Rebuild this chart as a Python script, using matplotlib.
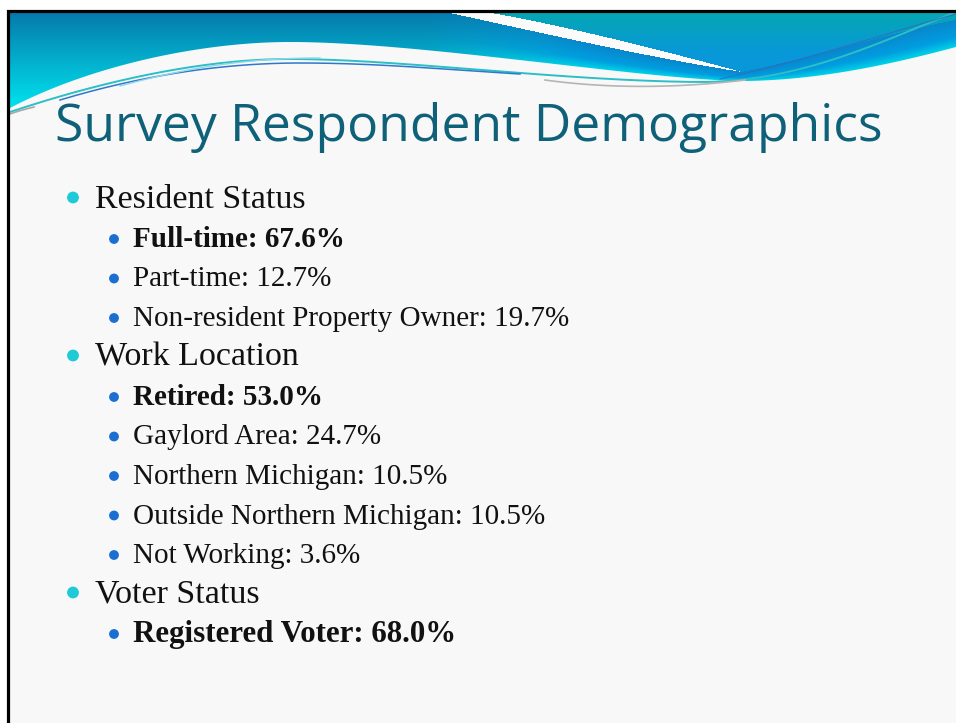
import numpy as np
import matplotlib
matplotlib.use("Agg")
import matplotlib.pyplot as plt
from matplotlib.patches import Polygon, Circle

# ---------------- data ----------------
title = "Survey Respondent Demographics"
section_titles = ["Resident Status", "Work Location", "Voter Status"]
resident_labels = ["Full-time", "Part-time", "Non-resident Property Owner"]
resident_values = [67.6, 12.7, 19.7]
work_labels = ["Retired", "Gaylord Area", "Northern Michigan",
               "Outside Northern Michigan", "Not Working"]
work_values = [53.0, 24.7, 10.5, 10.5, 3.6]
voter_labels = ["Registered Voter"]
voter_values = [68.0]

W, H = 956, 723
fig = plt.figure(figsize=(W / 100, H / 100), dpi=100)
ax = fig.add_axes([0, 0, 1, 1])
ax.set_xlim(0, W)
ax.set_ylim(H, 0)
ax.axis("off")
fig.patch.set_facecolor("white")


def bez(p0, p1, p2, p3, n=80):
    t = np.linspace(0, 1, n)[:, None]
    p0, p1, p2, p3 = map(np.asarray, (p0, p1, p2, p3))
    return (1 - t) ** 3 * p0 + 3 * (1 - t) ** 2 * t * p1 + 3 * (1 - t) * t ** 2 * p2 + t ** 3 * p3


def hexc(h):
    h = h.lstrip("#")
    return np.array([int(h[i:i + 2], 16) / 255 for i in (0, 2, 4)])


# slide background inside border
ax.add_patch(plt.Rectangle((9, 10), W, H, facecolor="#f8f8f8", edgecolor="none", zorder=0))

# ---- header band ----
b1 = bez((10, 108), (90, 66), (200, 42), (290, 42))
b2 = bez((290, 42), (420, 42), (640, 79), (740, 81))
b3 = bez((740, 81), (820, 81), (900, 62), (956, 47))
bcurve = np.vstack([b1, b2[1:], b3[1:]])
band_poly = np.vstack([[[9, 10]], bcurve, [[956, 10]]])

up = bez((474, 10), (560, 24), (660, 50), (742, 72))
lo = bez((436, 10), (520, 28), (640, 56), (742, 72))
dd = bez((742, 72), (820, 56), (900, 30), (956, 20))

X, Y = np.meshgrid(np.arange(W) + 0.5, np.arange(120) + 0.5)
B = np.interp(X, bcurve[:, 0], bcurve[:, 1])
U = np.interp(X, up[:, 0], up[:, 1], left=-1)
L = np.interp(X, lo[:, 0], lo[:, 1], left=-1)
D = np.interp(X, dd[:, 0], dd[:, 1])
T = np.where(X <= 742, U, D)
S = np.where(X <= 742, L, D)

lt, lb = hexc("#0677a9"), hexc("#00e5f0")
s = np.clip((Y - 10) / 100, 0, 1)[..., None]
left = lt * (1 - s) + lb * s
t = np.clip((Y - S) / np.maximum(B - S, 1), 0, 1)[..., None]
c0, c1, c2 = hexc("#0a86cc"), hexc("#009ee0"), hexc("#00d3e6")
right = np.where(t < 0.65, c0 + (c1 - c0) * (t / 0.65), c1 + (c2 - c1) * ((t - 0.65) / 0.35))
w = np.clip((X - 430) / 160, 0, 1)[..., None]
below = left * (1 - w) + right * w
ta, tb = hexc("#05a6b4"), hexc("#0898da")
u = np.clip((Y - 14) / 40, 0, 1)[..., None]
teal = ta * (1 - u) + tb * u
img = np.where((Y < T)[..., None], teal, below)
stripe = (Y >= T) & (Y < S)
img[stripe] = hexc("#fbfbfb")

im = ax.imshow(img, extent=(0, W, 120, 0), origin="upper", zorder=1, interpolation="bilinear")
clip = Polygon(band_poly, closed=True, transform=ax.transData, facecolor="none", edgecolor="none")
ax.add_patch(clip)
im.set_clip_path(clip)
ax.set_xlim(0, W)
ax.set_ylim(H, 0)

# decorative lines
l1 = np.vstack([bez((10, 112), (100, 82), (200, 59), (290, 59)),
                bez((290, 59), (400, 59), (560, 81), (700, 82)),
                bez((700, 82), (800, 82), (880, 42), (956, 12))])
ax.plot(l1[:, 0], l1[:, 1], color="#2cbfc6", lw=1.4, zorder=3)
l2 = np.vstack([bez((60, 100), (140, 76), (220, 63), (300, 63)),
                bez((300, 63), (380, 63), (450, 70), (520, 74))])
ax.plot(l2[:, 0], l2[:, 1], color="#2f78cc", lw=1.1, zorder=3)
l3 = bez((120, 86), (200, 64), (260, 58), (320, 58))
ax.plot(l3[:, 0], l3[:, 1], color="#8fd6ea", lw=1.0, zorder=3)
l4 = bez((720, 79), (800, 62), (880, 35), (956, 14))
ax.plot(l4[:, 0], l4[:, 1], color="#2f6fc0", lw=0.9, zorder=3, alpha=0.8)
g1 = bez((545, 80), (610, 89), (680, 88), (745, 80))
ax.plot(g1[:, 0], g1[:, 1], color="#b5b5b5", lw=1.2, zorder=3)
g2 = bez((10, 114), (18, 111), (26, 109), (34, 107))
ax.plot(g2[:, 0], g2[:, 1], color="#a8a8a8", lw=1.2, zorder=3)

# border
ax.plot([8.5, 8.5, W + 5], [H + 5, 10.5, 10.5], color="black", lw=2.3, zorder=5,
        solid_joinstyle="miter")

# ---- title ----
ax.text(55, 141, title, fontfamily="Open Sans", fontsize=37.2, color="#0f6179",
        va="baseline", ha="left", zorder=6)

# ---- bullets ----
lines = []
groups = [(resident_labels, resident_values), (work_labels, work_values),
          (voter_labels, voter_values)]
for gi, (head, (labs, vals)) in enumerate(zip(section_titles, groups)):
    lines.append((1, head, False, 24.5))
    top = max(vals)
    first = True
    for lab, v in zip(labs, vals):
        bold = (v == top) and first
        if bold:
            first = False
        lines.append((2, f"{lab}: {v:.1f}%", bold, 22.3 if gi == 2 else 21))

y0, dy = 207.5, 39.5
for i, (lvl, txt, bold, fs) in enumerate(lines):
    yb = y0 + dy * i
    if lvl == 1:
        ax.add_patch(Circle((73, yb - 10), 5.2, color="#1ecad6", zorder=6))
        ax.text(95, yb, txt, fontfamily="Liberation Serif", fontsize=fs,
                color="#111111", va="baseline", ha="left", zorder=6)
    else:
        ax.add_patch(Circle((114, yb - 8), 4.2, color="#1b6fd0", zorder=6))
        ax.text(133, yb, txt, fontfamily="Liberation Serif", fontsize=fs,
                fontweight="bold" if bold else "normal",
                color="#111111", va="baseline", ha="left", zorder=6)

fig.savefig("out.png", dpi=100, facecolor="white")
